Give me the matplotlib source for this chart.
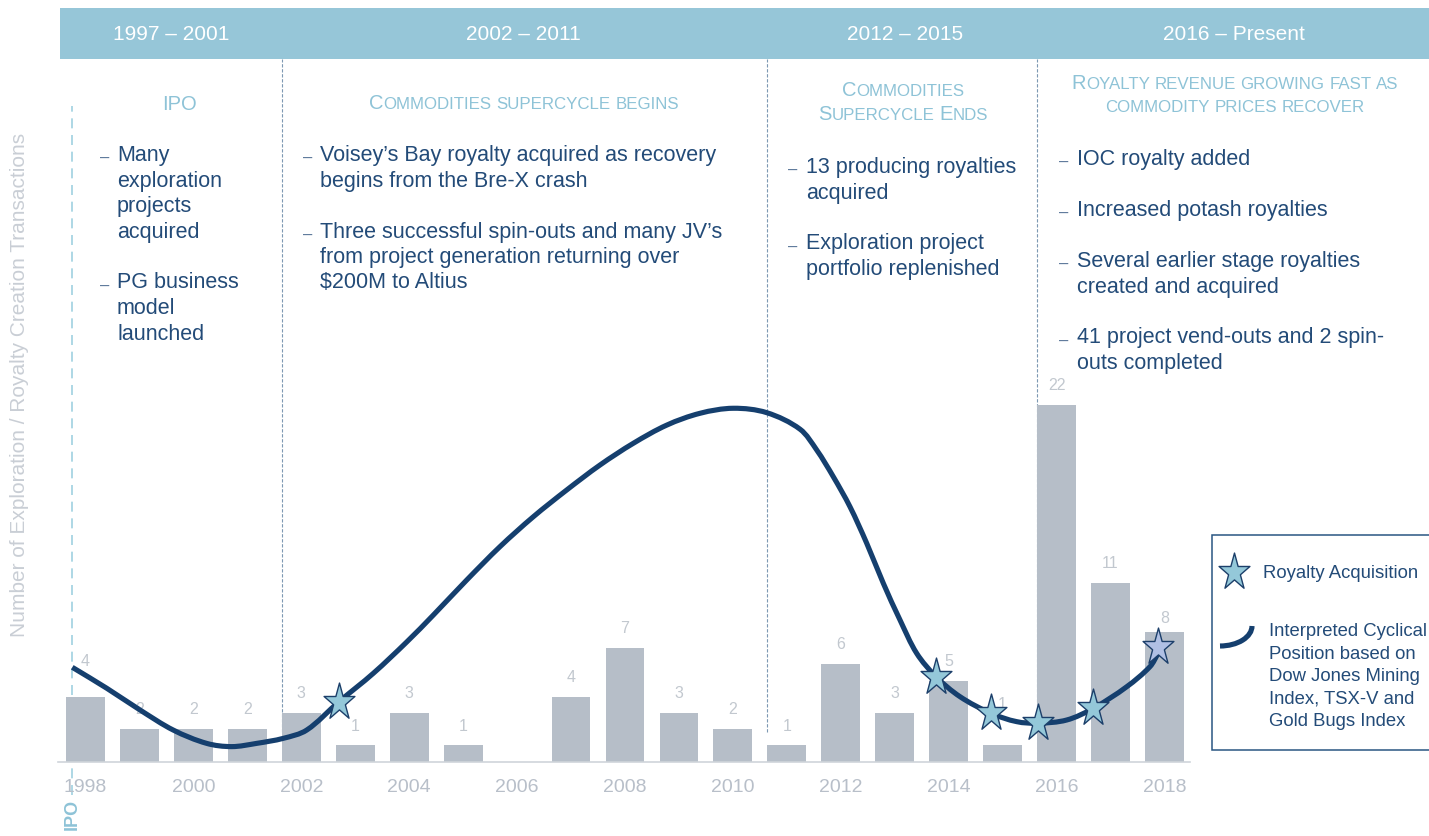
import matplotlib
matplotlib.use("Agg")
import matplotlib.pyplot as plt
from matplotlib.patches import Rectangle, Arc, PathPatch
from matplotlib.lines import Line2D
from matplotlib.path import Path
from matplotlib.font_manager import FontProperties
import numpy as np

plt.rcParams['font.family'] = ['Liberation Sans', 'DejaVu Sans']

# ---------------- data ----------------
years = list(range(1998, 2019))
transactions = [4, 2, 2, 2, 3, 1, 3, 1, 0, 4, 7, 3, 2, 1, 6, 3, 5, 1, 22, 11, 8]
label_lift = {1998: 2.2, 2015: 2.5, 2018: 0.8}   # label offsets that differ from default
tick_years = list(range(1998, 2019, 2))

# interpreted cyclical position
cycle_x = [1997.755, 1998.393, 1999.010, 1999.627, 2000.246, 2000.710, 2001.173, 2001.666,
           2002.100, 2002.699, 2003.335, 2003.954, 2004.447, 2005.066, 2005.683, 2006.300,
           2006.919, 2007.536, 2008.154, 2008.773, 2009.390, 2010.007, 2010.626, 2011.244,
           2011.553, 2011.861, 2012.170, 2012.480, 2012.788, 2013.097, 2013.407, 2013.765,
           2014.209, 2014.784, 2015.260, 2015.650, 2016.187, 2016.680, 2017.299, 2017.731,
           2017.885]
cycle_y = [5.82, 4.53, 3.19, 1.95, 1.13, 0.93, 1.13, 1.44,
           1.95, 3.70, 5.45, 7.38, 9.04, 11.20, 13.26, 15.10,
           16.75, 18.29, 19.63, 20.75, 21.48, 21.79, 21.52, 20.50,
           19.22, 17.57, 15.72, 13.47, 11.00, 8.74, 6.68, 5.24,
           4.01, 2.98, 2.47, 2.37, 2.57, 3.29, 4.62, 5.86,
           6.70]

# royalty acquisitions (stars)
star_x = [2002.70, 2013.76, 2014.78, 2015.65, 2016.68, 2017.885]
star_y = [3.70, 5.24, 2.98, 2.37, 3.29, 7.09]

period_labels = ["1997 – 2001", "2002 – 2011", "2012 – 2015", "2016 – Present"]
period_starts = [2002, 2011, 2016]
ipo_year = 1997.755

# ---------------- style ----------------
W, H = 1429, 836
BAR = '#b6bec8'
NAVY = '#153f6e'
TEXT = '#234b78'
LBLUE = '#8ec3d7'
BAND = '#96c6d8'
STAR = '#94c8d9'
STAR2 = '#b0c0e4'
GREY_TXT = '#c2c8cf'
TICK = '#b8bfc9'

def fx(x):
    return x / W

def fy(y):
    return 1 - y / H

fig = plt.figure(figsize=(W / 100, H / 100), dpi=100)

# data axes
base_px = 761.7
unit_px = 16.22
top_px = 59
x_left_px, x_right_px = 58, 1190
px0, pstep = 85.5, 53.95
ax = fig.add_axes([fx(x_left_px), (H - base_px) / H, (x_right_px - x_left_px) / W, (base_px - top_px) / H])
ax.set_xlim(1998 + (x_left_px - px0) / pstep, 1998 + (x_right_px - px0) / pstep)
ymax = (base_px - top_px) / unit_px
ax.set_ylim(0, ymax)
ax.patch.set_alpha(0)
for s in ['top', 'left', 'right']:
    ax.spines[s].set_visible(False)
ax.spines['bottom'].set_color('#cfd4da')
ax.spines['bottom'].set_linewidth(1.2)
ax.set_yticks([])
ax.set_xticks(tick_years)
ax.set_xticklabels([str(y) for y in tick_years])
ax.tick_params(axis='x', length=0, pad=12.5, labelsize=14, labelcolor=TICK)

bw = 0.72
ax.bar(years, transactions, width=bw, color=BAR, zorder=2)
for yr, v in zip(years, transactions):
    if v > 0:
        ax.text(yr, v + label_lift.get(yr, 1.2), str(v), ha='center', va='center',
                fontsize=11.5, color=GREY_TXT, zorder=2.5)

# period dividers
div_bottom = (base_px - 731.7) / unit_px
for ps in period_starts:
    ax.vlines(ps - bw / 2, div_bottom, ymax, colors='#7d98b3', linewidth=0.8,
              linestyles=(0, (3, 1.5)), zorder=1)

# IPO dashed line
ax.vlines(ipo_year, (base_px - 795) / unit_px, (base_px - 106) / unit_px, colors='#9fd1e0',
          linewidth=1.2, linestyles=(0, (6, 4)), zorder=1, clip_on=False)

# cyclical curve: smooth cubic path through the read points
# (chord-length Catmull-Rom tangents -> Bezier segments, drawn in data coords)
P = np.column_stack([cycle_x, cycle_y])
scale = np.array([pstep, unit_px])          # only used to measure chord lengths evenly
chord = np.linalg.norm(np.diff(P * scale, axis=0), axis=1)
t = np.concatenate([[0], np.cumsum(chord)])
n = len(P)
tang = np.zeros_like(P)
for i in range(n):
    a = max(i - 1, 0)
    b = min(i + 1, n - 1)
    tang[i] = (P[b] - P[a]) / (t[b] - t[a])
verts = [P[0]]
codes = [Path.MOVETO]
for i in range(n - 1):
    dt = t[i + 1] - t[i]
    verts += [P[i] + tang[i] * dt / 3, P[i + 1] - tang[i + 1] * dt / 3, P[i + 1]]
    codes += [Path.CURVE4] * 3
ax.add_patch(PathPatch(Path(verts, codes), facecolor='none', edgecolor=NAVY, lw=3.7,
                       capstyle='butt', joinstyle='round', zorder=3))

# star marker, slightly elongated vertically
base_star = Path.unit_regular_star(5, 0.381966)
sv = base_star.vertices.copy()
sv[:, 1] *= 1.2
star_path = Path(sv, base_star.codes)
colors = [STAR] * (len(star_x) - 1) + [STAR2]
for x, y, c in zip(star_x, star_y, colors):
    ax.plot([x], [y], marker=star_path, markersize=28, markerfacecolor=c,
            markeredgecolor='#1c3f6a', markeredgewidth=1.0, linestyle='none', zorder=4)

# ---------------- header band ----------------
fig.patches.append(Rectangle((fx(60), fy(59)), fx(1429) - fx(60), (59 - 8) / H,
                             transform=fig.transFigure, facecolor=BAND, edgecolor='none', zorder=0))
for lab, xc in zip(period_labels, [171, 523, 905, 1234]):
    fig.text(fx(xc), fy(34), lab, color='white', fontsize=15, ha='center', va='center')

# ---------------- small caps titles ----------------
renderer = fig.canvas.get_renderer()

def smallcaps(xc, yb, text, big=14.5, small=12.2, color=LBLUE):
    pieces = []
    for word in text.split(' '):
        runs = []
        for ch in word:
            sz = big if ch.isupper() else small
            if runs and runs[-1][1] == sz:
                runs[-1][0] += ch.upper()
            else:
                runs.append([ch.upper(), sz])
        pieces.append(runs)
    widths = []
    for runs in pieces:
        ws = []
        for s, sz in runs:
            fp = FontProperties(family='Liberation Sans', size=sz)
            w, h, d = renderer.get_text_width_height_descent(s, fp, ismath=False)
            ws.append(w)
        widths.append(ws)
    space = 0.278 * small * 100 / 72
    total = sum(sum(ws) for ws in widths) + space * (len(pieces) - 1)
    x = xc - total / 2
    for runs, ws in zip(pieces, widths):
        for (s, sz), w in zip(runs, ws):
            fig.text(fx(x), fy(yb), s, fontsize=sz, color=color, ha='left', va='baseline')
            x += w
        x += space

smallcaps(180, 110, "IPO")
smallcaps(524, 109, "Commodities supercycle begins")
smallcaps(903, 96, "Commodities")
smallcaps(903, 120, "Supercycle Ends")
smallcaps(1235, 89, "Royalty revenue growing fast as")
smallcaps(1235, 112, "commodity prices recover")

# ---------------- bullet texts ----------------
LH = 25.5
columns = [
    (100, 117, 161, [["Many", "exploration", "projects", "acquired"],
                     ["PG business", "model", "launched"]]),
    (303, 320, 161, [["Voisey’s Bay royalty acquired as recovery", "begins from the Bre-X crash"],
                     ["Three successful spin-outs and many JV’s",
                      "from project generation returning over", "$200M to Altius"]]),
    (788, 806, 173, [["13 producing royalties", "acquired"],
                     ["Exploration project", "portfolio replenished"]]),
    (1059, 1077, 165, [["IOC royalty added"], ["Increased potash royalties"],
                       ["Several earlier stage royalties", "created and acquired"],
                       ["41 project vend-outs and 2 spin-", "outs completed"]]),
]
for dash_x, text_x, y0, bullets in columns:
    y = y0
    for lines in bullets:
        fig.text(fx(dash_x), fy(y + 2), '–', fontsize=12, color='#5a7699', ha='left', va='baseline')
        for ln in lines:
            fig.text(fx(text_x), fy(y), ln, fontsize=15.5, color=TEXT, ha='left', va='baseline')
            y += LH
        y += LH

# ---------------- axis titles ----------------
fig.text(fx(20), fy(385), "Number of Exploration / Royalty Creation Transactions", rotation=90,
         ha='center', va='center', fontsize=15, color='#c9ced5')
fig.text(fx(72), fy(814), "IPO", rotation=90, ha='center', va='center', fontsize=13,
         fontweight='bold', color=LBLUE)

# ---------------- legend ----------------
fig.patches.append(Rectangle((fx(1211.7), fy(750)), fx(1440) - fx(1211.7), (750 - 535) / H,
                             transform=fig.transFigure, facecolor='white', edgecolor='#2a5683',
                             linewidth=1.1, zorder=5, clip_on=False))
fig.add_artist(Line2D([fx(1234.3)], [fy(571.7)], transform=fig.transFigure, marker=star_path,
                      markersize=28, markerfacecolor=STAR, markeredgecolor='#1c3f6a',
                      markeredgewidth=1.0, linestyle='none', zorder=6))
fig.text(fx(1262.7), fy(578), "Royalty Acquisition", fontsize=13.3, color=TEXT, ha='left',
         va='baseline', zorder=6)
arc = Arc((fx(1220), fy(626)), 2 * 32 / W, 2 * 20 / H, theta1=270, theta2=360,
          transform=fig.transFigure, color=NAVY, linewidth=3.7, zorder=6)
arc.set_capstyle('butt')
fig.add_artist(arc)
leg_lines = ["Interpreted Cyclical", "Position based on", "Dow Jones Mining",
             "Index, TSX-V and", "Gold Bugs Index"]
for i, ln in enumerate(leg_lines):
    fig.text(fx(1269), fy(636.5 + i * 22.4), ln, fontsize=13.3, color=TEXT, ha='left',
             va='baseline', zorder=6)

fig.savefig("out.png", dpi=100)
